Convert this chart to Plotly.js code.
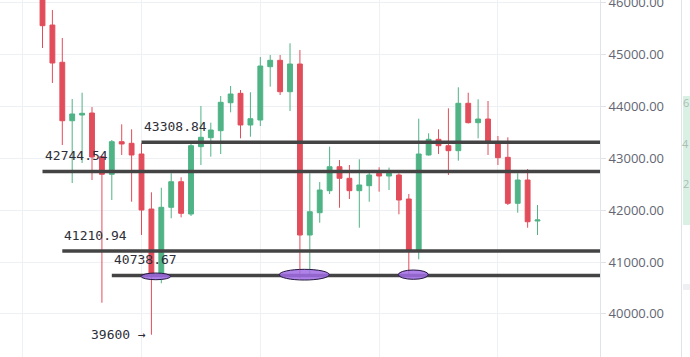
<!DOCTYPE html>
<html>
<head>
<meta charset="utf-8">
<script src="https://cdn.plot.ly/plotly-3.0.1.min.js"></script>
<style>
  html, body { margin: 0; padding: 0; background: #ffffff; }
  #chart { width: 690px; height: 357px; }
</style>
</head>
<body>
<div id="chart"></div>
<script>
// ---- data (candle index, OHLC) ----
const opens  = [46350, 45566, 44848, 43722, 43832, 43871, 43029, 42690, 43318, 43287,
                43081, 42021, 40780, 42054, 42547, 41925, 43222, 43395, 43530, 44069,
                44250, 43640, 43736, 44763, 44886, 44281, 44815, 41520, 41950, 42374,
                42836, 42613, 42374, 42470, 42709, 42657, 42676, 42214, 41231, 43062,
                43364, 43241, 43145, 44058, 43684, 43755, 43287, 43017, 42131, 42580, 41790];
const highs  = [46450, 45855, 45316, 44141, 44262, 43986, 43040, 43351, 43653, 43557,
                43287, 42343, 42432, 42709, 42632, 43274, 44006, 43684, 44198, 44391,
                44314, 44270, 44950, 44988, 44988, 45214, 45085, 42709, 42541, 43222,
                42965, 42869, 42979, 42773, 42825, 42820, 42709, 42310, 43761, 43480,
                43557, 43961, 44366, 44262, 44135, 44102, 43428, 43403, 42709, 42792, 42098];
const lows   = [45123, 44449, 43254, 42522, 42907, 42580, 40216, 42195, 43062, 42162,
                41520, 39600, 40590, 41842, 41861, 41886, 42869, 43029, 43081, 43884,
                43383, 43414, 43620, 44378, 44218, 43909, 40686, 40717, 41757, 42310,
                42046, 42214, 41661, 42162, 42355, 42387, 41919, 40740, 41052, 43050,
                43081, 42676, 42952, 43670, 43383, 43062, 42869, 42098, 41950, 41661, 41520];
const closes = [45553, 44834, 43722, 43852, 43865, 43023, 42690, 43318, 43274, 43062,
                42002, 40760, 42054, 42547, 41938, 43241, 43403, 43543, 44077, 44237,
                43640, 43761, 44776, 44886, 44281, 44815, 41520, 41969, 42387, 42836,
                42613, 42374, 42484, 42676, 42657, 42709, 42195, 41230, 43081, 43364,
                43241, 43145, 44058, 43684, 43755, 43331, 43010, 42131, 42580, 41776, 41810];

// horizontal levels and the candle index where each line starts
const levelValues = [42744.54, 43308.84, 41210.94, 40738.67];
const levelLabels = ["42744.54", "43308.84", "41210.94", "40738.67"];
const levelStarts = [0, 10, 2, 7];

// low marker
const lowLabel = "39600 \u2192";
const lowValue = 39600;
const lowIndex = 11;

// highlighted touches of the lowest level: [from index, to index, low, high]
const ellipseSpans = [[9.95, 12.95, 40659, 40788], [23.92, 28.97, 40653, 40859], [35.94, 38.97, 40667, 40846]];

// side panel glyphs
const sideTexts = ['6', '4', '2'];

const xIdx = opens.map((_, i) => i);

const RED = '#e24d5b';
const GREEN = '#4fb386';
const GRID = '#eef1f4';
const AXIS = '#e0e3ea';

const trace = {
  type: 'candlestick',
  x: xIdx, open: opens, high: highs, low: lows, close: closes,
  increasing: { line: { color: GREEN, width: 1 }, fillcolor: GREEN },
  decreasing: { line: { color: RED, width: 1 }, fillcolor: RED },
  whiskerwidth: 0,
  hoverinfo: 'none',
  showlegend: false
};

const shapes = [];
levelValues.forEach((v, k) => {
  shapes.push({
    type: 'line', xref: 'x', yref: 'y',
    x0: levelStarts[k], x1: 70, y0: v, y1: v,
    line: { color: '#444444', width: 3.5 }
  });
});
ellipseSpans.forEach(e => {
  shapes.push({
    type: 'circle', xref: 'x', yref: 'y',
    x0: e[0], x1: e[1], y0: e[2], y1: e[3],
    fillcolor: 'rgba(160,108,228,0.85)',
    line: { color: '#24173f', width: 1 }
  });
});
// side panel decorations (outside plot area)
shapes.push({ type: 'line', xref: 'paper', yref: 'paper', x0: 681.5/600, x1: 681.5/600, y0: 0, y1: 1, line: { color: AXIS, width: 1 } });
shapes.push({ type: 'rect', xref: 'paper', yref: 'paper', x0: 683/600, x1: 700/600, y0: 1 - 225/357, y1: 1 - 96/357, fillcolor: '#d9f1e5', line: { width: 0 } });
shapes.push({ type: 'rect', xref: 'paper', yref: 'paper', x0: 683/600, x1: 700/600, y0: 1 - 290/357, y1: 1 - 284/357, fillcolor: '#eef0f3', line: { width: 0 } });

const annFont = { family: 'DejaVu Sans Mono', size: 13, color: '#2e2e38' };
const annotations = levelValues.map((v, k) => ({
  x: levelStarts[k], y: v, xref: 'x', yref: 'y',
  text: levelLabels[k], showarrow: false,
  xanchor: 'left', yanchor: 'middle', xshift: 0, yshift: 16,
  font: annFont
}));
annotations.push({
  x: lowIndex, y: lowValue, xref: 'x', yref: 'y',
  text: lowLabel, showarrow: false,
  xanchor: 'right', yanchor: 'middle', xshift: -3, yshift: 0,
  font: annFont
});
sideTexts.forEach((t, k) => {
  annotations.push({
    x: 690/600, y: 1 - [102, 143, 184][k]/357, xref: 'paper', yref: 'paper',
    text: t, showarrow: false, xanchor: 'right', yanchor: 'middle', borderpad: 0,
    font: { family: 'Open Sans', size: 11, color: '#a9bdb3' }
  });
});

const layout = {
  width: 690, height: 357,
  margin: { l: 0, r: 90, t: 0, b: 0 },
  paper_bgcolor: '#ffffff', plot_bgcolor: '#ffffff',
  showlegend: false,
  dragmode: false,
  xaxis: {
    range: [-4.293, 56.31],
    showticklabels: false, ticks: '',
    showgrid: true, gridcolor: GRID, gridwidth: 1,
    tick0: -2, dtick: 12,
    zeroline: false, showline: false,
    rangeslider: { visible: false },
    fixedrange: true
  },
  yaxis: {
    side: 'right',
    range: [39170, 46048],
    tick0: 0, dtick: 1000, tickformat: '.2f',
    showgrid: true, gridcolor: GRID, gridwidth: 1,
    zeroline: false,
    showline: true, linecolor: AXIS, linewidth: 1,
    ticks: 'outside', ticklen: 5, tickcolor: AXIS,
    ticklabeloverflow: 'allow',
    tickfont: { family: 'Open Sans', size: 13, color: '#636672' },
    automargin: false,
    fixedrange: true
  },
  shapes: shapes,
  annotations: annotations
};

Plotly.newPlot('chart', [trace], layout, { displayModeBar: false, staticPlot: true });
</script>
</body>
</html>
